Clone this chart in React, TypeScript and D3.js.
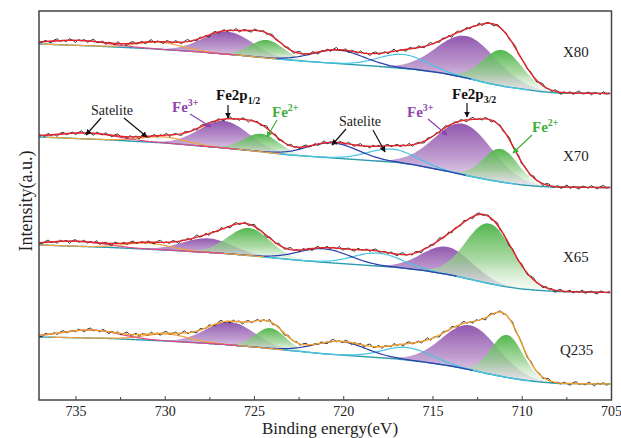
import React from 'react';
import * as d3 from 'd3';

const W = 621;
const H = 438;
const FRAME = { left: 39, right: 611.5, top: 11, bottom: 400 };

const X_DOMAIN: [number, number] = [737.07, 705];
const Y_DOMAIN: [number, number] = [0, 389];
const MAJOR_TICKS = [735, 730, 725, 720, 715, 710, 705];
const MINOR_TICKS = [732.5, 727.5, 722.5, 717.5, 712.5, 707.5];

const SAMPLE_NAMES = ['X80', 'X70', 'X65', 'Q235'];
const OFFSETS = [306.5, 212.5, 107.5, 16];

// Shirley-type background, [binding energy, intensity above spectrum offset]
const X80_BG: [number, number][] = [
  [737, 49.5], [734, 47.5], [731, 45], [728, 41.5], [726, 38.5], [724, 35], [722, 32],
  [720, 29.5], [718, 27], [716, 24], [714.5, 20.5], [713, 15], [712, 10.5], [711, 7],
  [710, 4.5], [709, 2], [708, 0.5], [705, 0],
];
const X70_BG: [number, number][] = [
  [737, 50.5], [733, 47.5], [730, 44.5], [727, 40], [725, 36.5], [723, 32.5], [721, 30],
  [719, 27.5], [717, 25], [716, 22.5], [715, 19], [714, 15.5], [713, 11.5], [712, 8],
  [711, 5], [710, 2.5], [709, 1], [708, 0.3], [705, 0],
];
const X65_BG: [number, number][] = [
  [737, 47.5], [733, 45], [730, 42.5], [727, 39.5], [725, 36.5], [723, 33], [721, 30],
  [719, 27.5], [717, 25], [715.5, 22], [714, 17.5], [713, 13.5], [712, 9.5], [711, 6],
  [710, 3.5], [709, 2], [708, 1], [705, 0],
];
const Q235_BG: [number, number][] = [
  [737, 47], [733, 45.5], [730, 43], [727, 40], [725, 37], [723, 33.5], [721, 30],
  [719, 27.5], [717, 25], [715.5, 22], [714, 18], [713, 14.5], [712, 10.5], [711, 7],
  [710, 4], [709, 2], [708, 0.5], [705, 0],
];

// Fitted components: [centre (eV), FWHM (eV), height]
const X80_FE3: number[][] = [[713.1, 3.9, 42], [726.5, 3.3, 22.5]];
const X80_FE2: number[][] = [[711.1, 2.6, 36], [724.3, 2.2, 18]];
const X80_SAT: number[][] = [[716.7, 3.2, 14], [720.3, 3.4, 13.5], [730.3, 3.0, 7], [734.8, 4.0, 5]];

const X70_FE3: number[][] = [[713.3, 3.8, 51], [726.7, 3.3, 27]];
const X70_FE2: number[][] = [[711.2, 2.3, 33], [724.6, 2.3, 18]];
const X70_SAT: number[][] = [[717.3, 3.2, 13], [720.6, 3.4, 15], [730.1, 3.0, 6], [734.3, 3.8, 6]];

const X65_FE3: number[][] = [[714.2, 3.3, 27.5], [727.6, 3.3, 14]];
const X65_FE2: number[][] = [[711.85, 3.1, 60], [725.3, 2.8, 27.5]];
const X65_SAT: number[][] = [[718.1, 3.2, 13], [721.1, 3.4, 13.5], [731.0, 3.0, 6], [735.0, 3.8, 5]];

const Q235_FE3: number[][] = [[712.9, 3.7, 44.5], [726.35, 3.2, 23]];
const Q235_FE2: number[][] = [[710.85, 2.1, 42.5], [724.1, 2.0, 20.5]];
const Q235_SAT: number[][] = [[716.45, 3.2, 12.5], [720.2, 3.4, 13.5], [729.9, 3.0, 7], [734.2, 3.8, 8]];

// measured scatter of the raw spectra around the fit
const NOISE = [
  0.6, -0.8, 1.2, -0.3, -1.5, 0.9, 1.8, -0.6, 0.2, -1.1, 1.4, 0.3, -1.9, 0.7, -0.2, 1.1,
  -1.3, 0.5, 2.1, -0.7, -0.4, 1.3, -1.6, 0.8, 0.1, -1.0, 1.7, -0.5, 0.4, -1.8, 0.9, 1.5,
  -0.9, -0.2, 1.0, -1.4, 0.3, 2.0, -1.2, 0.6, -0.3, -1.7, 1.2, 0.4, -0.8, 1.6, -0.1, -1.3,
  0.7, 1.9, -0.6, 0.2, -1.5, 1.1, -0.4, 0.8, -2.0, 0.5, 1.4, -0.9, 0.0, 1.2, -1.1, 0.6,
  -0.5, 1.8, -1.4, 0.3, 0.9, -0.7, -1.6, 1.3, 0.2, -0.3, 1.0, -1.2, 0.7, 1.6, -0.8, -0.2,
];

const SAT_COLORS = ['#46c4e2', '#2f3fae', '#f2a23e', '#e2488a'];
const FIT_COLORS = ['#e3262b', '#e3262b', '#e3262b', '#f0a032'];

const SPECTRA = [
  { bg: X80_BG, fe3: X80_FE3, fe2: X80_FE2, sat: X80_SAT },
  { bg: X70_BG, fe3: X70_FE3, fe2: X70_FE2, sat: X70_SAT },
  { bg: X65_BG, fe3: X65_FE3, fe2: X65_FE2, sat: X65_SAT },
  { bg: Q235_BG, fe3: Q235_FE3, fe2: Q235_FE2, sat: Q235_SAT },
];

const gauss = (e: number, p: number[]) => {
  const d = (e - p[0]) / p[1];
  return p[2] * Math.exp(-4 * Math.LN2 * d * d);
};

const SERIF = '"Liberation Serif", "Times New Roman", serif';

function Label({ x, y, base, sup, sub, color, bold, size = 15 }: any) {
  return (
    <text x={x} y={y} fill={color} fontFamily={SERIF} fontWeight={bold ? 'bold' : 'normal'} fontSize={size}>
      {base}
      {sup && <tspan fontSize={size * 0.66} dy={-size * 0.38}>{sup}</tspan>}
      {sub && <tspan fontSize={size * 0.66} dy={size * 0.25}>{sub}</tspan>}
    </text>
  );
}

function Arrow({ x1, y1, x2, y2, color }: any) {
  const id = 'ah-' + color.replace('#', '');
  return <line x1={x1} y1={y1} x2={x2} y2={y2} stroke={color} strokeWidth={1.2} markerEnd={`url(#${id})`} />;
}

export default function App() {
  const x = d3.scaleLinear().domain(X_DOMAIN).range([FRAME.left, FRAME.right]);
  const y = d3.scaleLinear().domain(Y_DOMAIN).range([FRAME.bottom, FRAME.top]);
  const grid = d3.range(X_DOMAIN[0], X_DOMAIN[1] - 0.001, -0.1);
  const rawGrid = d3.range(X_DOMAIN[0], X_DOMAIN[1] - 0.001, -0.17);

  const line = d3.line<[number, number]>().x((d) => x(d[0])).y((d) => y(d[1]));
  const area = d3
    .area<{ e: number; b: number; p: number }>()
    .x((d) => x(d.e))
    .y0((d) => y(d.b))
    .y1((d) => y(d.b + d.p));

  const spectra = SPECTRA.map((s, si) => {
    const off = OFFSETS[si];
    const bgScale = d3
      .scaleLinear()
      .domain(s.bg.map((p) => p[0]))
      .range(s.bg.map((p) => p[1] + off))
      .clamp(true);
    const all = [...s.fe3, ...s.fe2, ...s.sat];
    const fit = (e: number) => bgScale(e) + d3.sum(all, (p) => gauss(e, p));
    const env = grid.map((e) => [e, fit(e)] as [number, number]);
    const raw = rawGrid.map((e, i) => [e, fit(e) + 1.1 * NOISE[(i + si * 23) % NOISE.length]] as [number, number]);
    const bgLine = grid.map((e) => [e, bgScale(e)] as [number, number]);
    const peakArea = (p: number[]) =>
      area(
        grid
          .filter((e) => Math.abs(e - p[0]) < p[1] * 1.6)
          .map((e) => ({ e, b: bgScale(e), p: gauss(e, p) }))
      ) as string;
    const satLine = (p: number[]) =>
      line(
        grid
          .filter((e) => Math.abs(e - p[0]) < p[1] * 2.2)
          .map((e) => [e, bgScale(e) + gauss(e, p)] as [number, number])
      ) as string;
    return { si, env, raw, bgLine, peakArea, satLine, s };
  });

  const arrowColors = ['#111111', '#8e44ad', '#3fae3a'];

  return (
    <svg width={W} height={H} style={{ position: 'absolute', left: 0, top: 0, background: '#fff' }}>
      <defs>
        <linearGradient id="gPurple" x1="0" y1="0" x2="0" y2="1">
          <stop offset="0" stopColor="#8c4fab" stopOpacity={0.95} />
          <stop offset="0.55" stopColor="#b58dc8" stopOpacity={0.85} />
          <stop offset="1" stopColor="#e6d8ee" stopOpacity={0.7} />
        </linearGradient>
        <linearGradient id="gGreen" x1="0" y1="0" x2="0" y2="1">
          <stop offset="0" stopColor="#4cb447" stopOpacity={0.97} />
          <stop offset="0.55" stopColor="#93cf8b" stopOpacity={0.75} />
          <stop offset="1" stopColor="#e2f3df" stopOpacity={0.25} />
        </linearGradient>
        <clipPath id="plotClip">
          <rect x={FRAME.left} y={FRAME.top} width={FRAME.right - FRAME.left} height={FRAME.bottom - FRAME.top} />
        </clipPath>
        {arrowColors.map((c) => (
          <marker key={c} id={'ah-' + c.replace('#', '')} viewBox="0 0 10 10" refX="9" refY="5" markerWidth="6" markerHeight="6" orient="auto-start-reverse" markerUnits="userSpaceOnUse">
            <path d="M0,0 L10,5 L0,10 z" fill={c} />
          </marker>
        ))}
      </defs>

      <g clipPath="url(#plotClip)">
        {spectra.map((sp) => (
          <g key={sp.si}>
            {sp.s.fe3.map((p, i) => (
              <path key={'p3' + i} d={sp.peakArea(p)} fill="url(#gPurple)" />
            ))}
            {sp.s.fe2.map((p, i) => (
              <path key={'p2' + i} d={sp.peakArea(p)} fill="url(#gGreen)" />
            ))}
            <path d={line(sp.bgLine) as string} fill="none" stroke="#2b9cae" strokeWidth={1.4} />
            {sp.s.sat.map((p, i) => (
              <path key={'s' + i} d={sp.satLine(p)} fill="none" stroke={SAT_COLORS[i]} strokeWidth={1.2} />
            ))}
            <path d={line(sp.raw) as string} fill="none" stroke="#111" strokeWidth={0.85} />
            <path d={line(sp.env) as string} fill="none" stroke={FIT_COLORS[sp.si]} strokeWidth={1.4} />
          </g>
        ))}
      </g>

      {/* frame */}
      <rect x={FRAME.left} y={FRAME.top} width={FRAME.right - FRAME.left} height={FRAME.bottom - FRAME.top} fill="none" stroke="#444" strokeWidth={1.5} />

      {/* x ticks */}
      {MAJOR_TICKS.map((t) => (
        <g key={t}>
          <line x1={x(t)} x2={x(t)} y1={FRAME.bottom} y2={FRAME.bottom - 4} stroke="#444" strokeWidth={1} />
          <text x={x(t)} y={416} textAnchor="middle" fontFamily={SERIF} fontSize={14} fill="#222">{t}</text>
        </g>
      ))}
      {MINOR_TICKS.map((t) => (
        <line key={t} x1={x(t)} x2={x(t)} y1={FRAME.bottom} y2={FRAME.bottom - 3} stroke="#444" strokeWidth={1} />
      ))}

      <text x={330} y={434} textAnchor="middle" fontFamily={SERIF} fontSize={17} fill="#222">Binding energy(eV)</text>
      <text transform="translate(32,201) rotate(-90)" textAnchor="middle" fontFamily={SERIF} fontSize={18} fill="#222">Intensity(a.u.)</text>

      {/* sample names */}
      {SAMPLE_NAMES.map((n, i) => (
        <text key={n} x={[563, 563, 563, 560][i]} y={[57, 161, 262, 355][i]} fontFamily={SERIF} fontSize={15} fill="#222">{n}</text>
      ))}

      {/* annotations on X70 */}
      <text x={112} y={115} textAnchor="middle" fontFamily={SERIF} fontSize={14} fill="#222">Satelite</text>
      <Arrow x1={101} y1={118} x2={86} y2={135} color="#111111" />
      <Arrow x1={124} y1={118} x2={147} y2={137} color="#111111" />
      <Label x={172} y={112} base="Fe" sup="3+" color="#8e44ad" bold />
      <Arrow x1={190} y1={114} x2={211} y2={127} color="#8e44ad" />
      <Label x={216} y={100} base="Fe2p" sub="1/2" color="#111" bold />
      <Arrow x1={228} y1={105} x2={228} y2={118} color="#111111" />
      <Label x={272} y={117} base="Fe" sup="2+" color="#3fae3a" bold />
      <Arrow x1={277} y1={120} x2={267} y2={137} color="#3fae3a" />

      <text x={360} y={126} textAnchor="middle" fontFamily={SERIF} fontSize={14} fill="#222">Satelite</text>
      <Arrow x1={346} y1={129} x2={332} y2={145} color="#111111" />
      <Arrow x1={373} y1={130} x2={385} y2={152} color="#111111" />
      <Label x={407} y={117} base="Fe" sup="3+" color="#8e44ad" bold />
      <Arrow x1={428} y1={119} x2={447} y2={135} color="#8e44ad" />
      <Label x={452} y={99} base="Fe2p" sub="3/2" color="#111" bold />
      <Arrow x1={467} y1={103} x2={467} y2={117} color="#111111" />
      <Label x={532} y={132} base="Fe" sup="2+" color="#3fae3a" bold />
      <Arrow x1={532} y1={135} x2={513} y2={153} color="#3fae3a" />
    </svg>
  );
}
